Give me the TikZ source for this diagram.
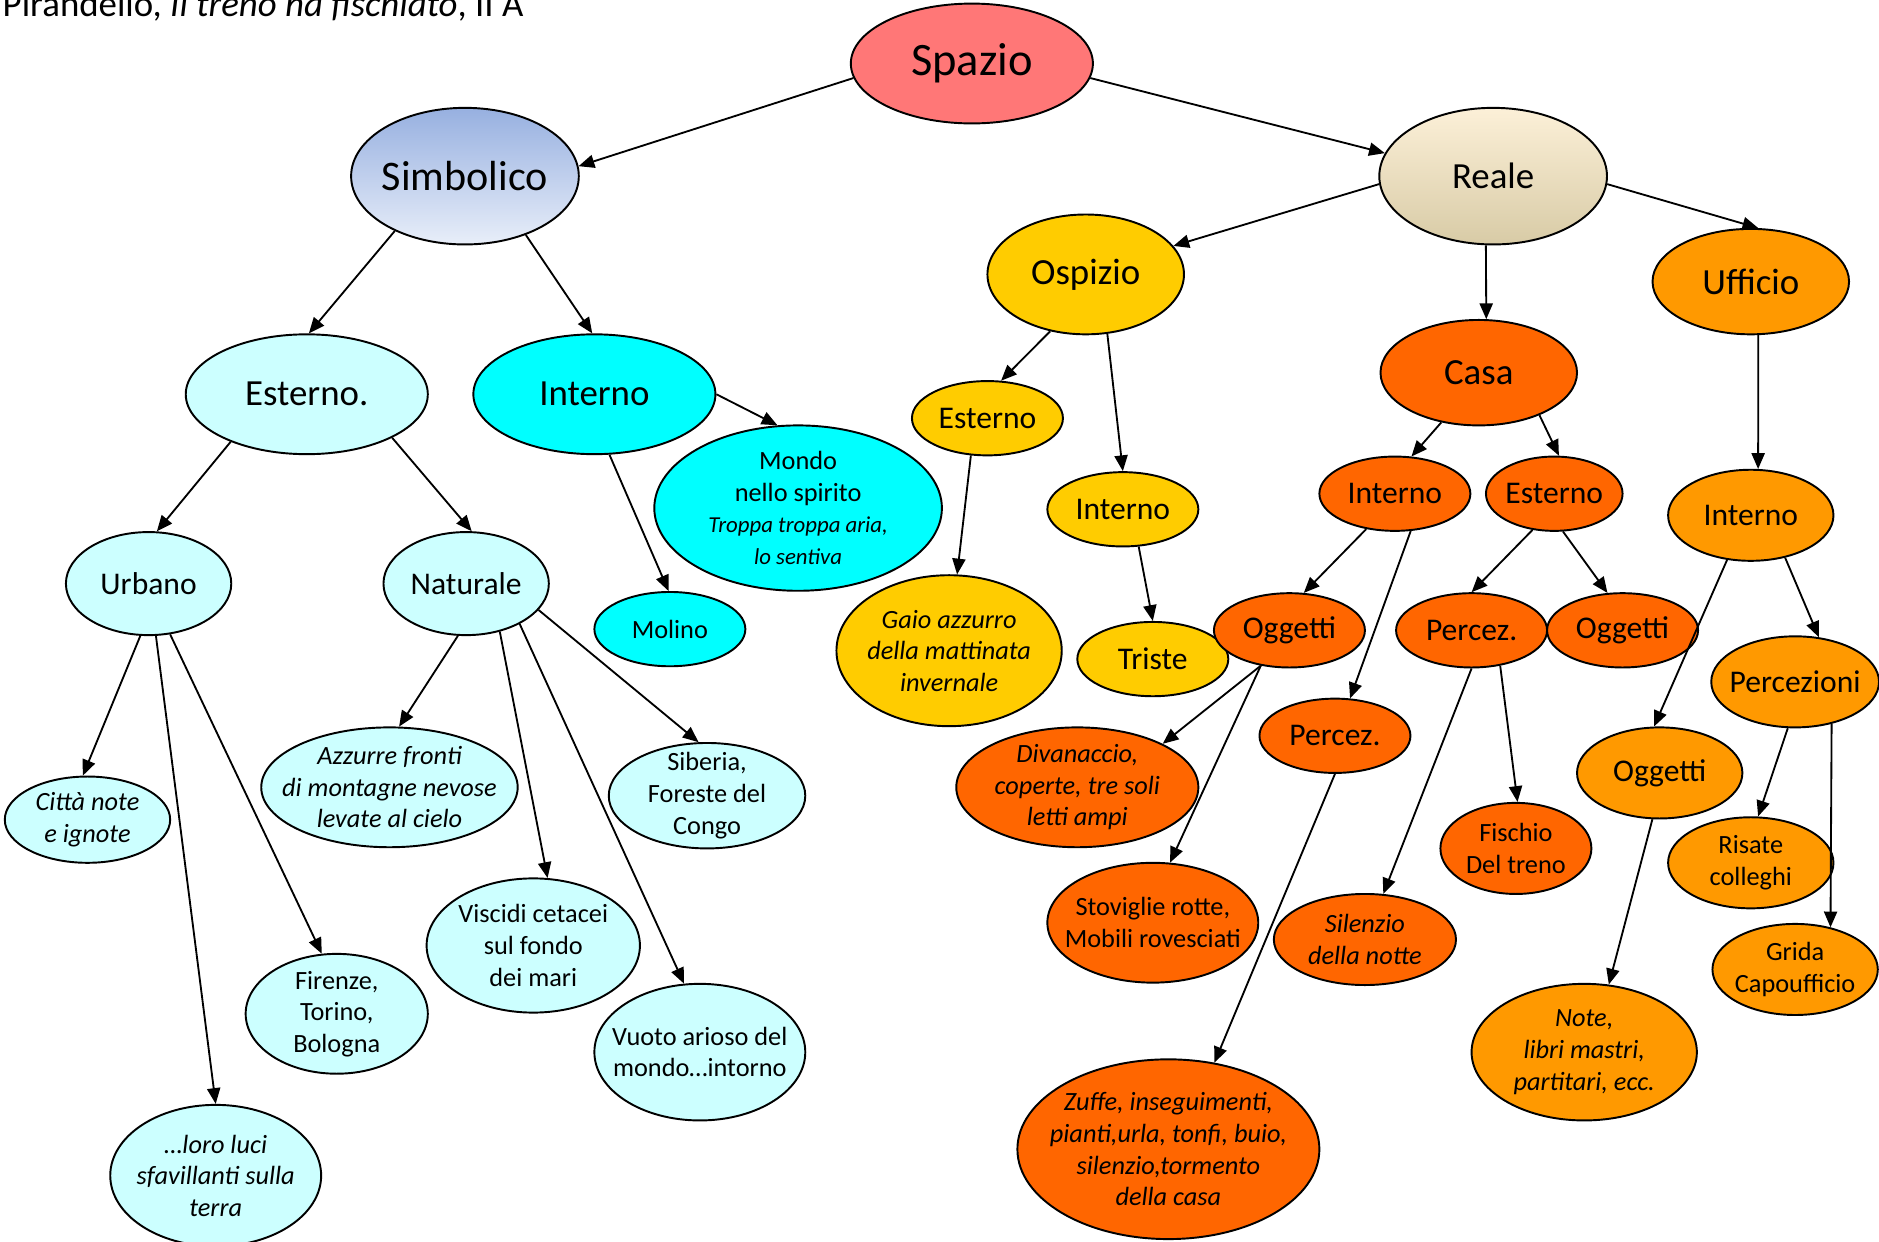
\documentclass[tikz,border=0pt]{standalone}
\usepackage{fontspec}
\setmainfont{Carlito}
\usetikzlibrary{shapes.geometric,arrows.meta}
\definecolor{spz}{HTML}{FF7777}
\definecolor{lcy}{HTML}{CCFFFF}
\definecolor{cy}{HTML}{00FFFF}
\definecolor{osp}{HTML}{FFCC00}
\definecolor{cas}{HTML}{FF6600}
\definecolor{uff}{HTML}{FF9900}
\definecolor{simbT}{HTML}{97B0E0}
\definecolor{simbB}{HTML}{E8EEF9}
\definecolor{realT}{HTML}{FCF0D8}
\definecolor{realB}{HTML}{D8CBA6}
\newcommand\fs[1]{\fontsize{#1}{18}\selectfont}
\newcommand\bub[8]{%
  \node[bubble,#6,minimum width=#4*0.048cm,minimum height=#5*0.048cm] (#1) at (#2,#3) {};
  \node[lbl,font=#7] (#1t) at (#1) {#8};}
\begin{document}
\begin{tikzpicture}[x=0.024cm,y=-0.024cm,
  bubble/.style={ellipse,draw=black,line width=1.1pt,inner sep=0pt},
  lbl/.style={align=center,inner sep=0pt},
  conn/.style={-{Triangle[length=9pt,width=7.5pt]},line width=1.05pt}]
\useasboundingbox (0,0) rectangle (1568,1036);
\node[anchor=base west,inner sep=0pt,font=\fontsize{21}{25}\selectfont] (title) at (2,14) {Pirandello, \textit{Il treno ha fischiato}, II A};

\bub{spazio}{811}{53}{101}{50}{fill=spz}{\fs{26.5}}{Spazio}
\bub{simb}{388}{147}{95}{57}{top color=simbT,bottom color=simbB}{\fs{24}}{Simbolico}
\bub{reale}{1246}{147}{95}{57}{top color=realT,bottom color=realB}{\fs{21}}{Reale}
\bub{est}{256}{329}{101}{50}{fill=lcy}{\fs{21}}{Esterno.}
\bub{int}{496}{329}{101}{50}{fill=cy}{\fs{21}}{Interno}
\bub{mondo}{666}{424}{120}{69}{fill=cy}{\fs{15}}{Mondo\\nello spirito\\{\itshape\fontsize{13}{18}\selectfont Troppa troppa aria,}\\{\itshape\fontsize{13}{18}\selectfont lo sentiva}}
\bub{molino}{559}{525}{63}{31}{fill=cy}{\fs{15}}{Molino}
\bub{urb}{124}{487}{69}{43}{fill=lcy}{\fs{18}}{Urbano}
\bub{nat}{389}{487}{69}{43}{fill=lcy}{\fs{18}}{Naturale}
\bub{citta}{73}{684}{69}{36}{fill=lcy}{\fs{15}\itshape}{Città note\\e ignote}
\bub{azz}{325}{657}{107}{50}{fill=lcy}{\fs{15}\itshape}{Azzurre fronti\\di montagne nevose\\levate al cielo}
\bub{sib}{590}{664}{82}{44}{fill=lcy}{\fs{15}}{Siberia,\\Foreste del\\Congo}
\bub{visc}{445}{789}{89}{56}{fill=lcy}{\fs{15}}{Viscidi cetacei\\sul fondo\\dei mari}
\bub{fir}{281}{846}{76}{50}{fill=lcy}{\fs{15}}{Firenze,\\Torino,\\Bologna}
\bub{vuoto}{584}{878}{88}{57}{fill=lcy}{\fs{15}}{Vuoto arioso del\\mondo…intorno}
\bub{luci}{180}{981}{88}{59}{fill=lcy}{\fs{15}\itshape}{…loro luci\\sfavillanti sulla\\terra}

\bub{osp}{906}{229}{82}{50}{fill=osp}{\fs{21}}{Ospizio}
\bub{ospE}{824}{349}{63}{31}{fill=osp}{\fs{18}}{Esterno}
\bub{ospI}{937}{425}{63}{31}{fill=osp}{\fs{18}}{Interno}
\bub{gaio}{792}{543}{94}{63}{fill=osp}{\fs{15}\itshape}{Gaio azzurro\\della mattinata\\invernale}
\bub{triste}{962}{550}{63}{31}{fill=osp}{\fs{18}}{Triste}

\bub{casa}{1234}{311}{82}{44}{fill=cas}{\fs{21}}{Casa}
\bub{casI}{1164}{412}{63}{31}{fill=cas}{\fs{18}}{Interno}
\bub{casE}{1297}{412}{57}{31}{fill=cas}{\fs{18}}{Esterno}
\bub{oggI}{1076}{526}{63}{31}{fill=cas}{\fs{18}}{Oggetti}
\bub{perE}{1228}{526}{63}{31}{fill=cas}{\fs{18}}{Percez.}
\bub{oggE}{1354}{526}{63}{31}{fill=cas}{\fs{18}}{Oggetti}
\bub{perI}{1114}{614}{63}{31}{fill=cas}{\fs{18}}{Percez.}
\bub{divan}{899}{657}{101}{50}{fill=cas}{\fs{15}\itshape}{Divanaccio,\\coperte, tre soli\\letti ampi}
\bub{stov}{962}{770}{88}{50}{fill=cas}{\fs{15}}{Stoviglie rotte,\\Mobili rovesciati}
\bub{sil}{1139}{784}{76}{38}{fill=cas}{\fs{15}\itshape}{Silenzio\\della notte}
\bub{fisc}{1265}{708}{63}{38}{fill=cas}{\fs{15}}{Fischio\\Del treno}
\bub{zuffe}{975}{959}{126}{75}{fill=cas}{\fs{15}\itshape}{Zuffe, inseguimenti,\\pianti,urla, tonfi, buio,\\silenzio,tormento\\della casa}

\bub{uff}{1461}{235}{82}{44}{fill=uff}{\fs{21}}{Ufficio}
\bub{uffI}{1461}{430}{69}{38}{fill=uff}{\fs{18}}{Interno}
\bub{perc}{1498}{569}{70}{38}{fill=uff}{\fs{18}}{Percezioni}
\bub{oggU}{1385}{645}{69}{38}{fill=uff}{\fs{18}}{Oggetti}
\bub{ris}{1461}{720}{69}{38}{fill=uff}{\fs{15}}{Risate\\colleghi}
\bub{grida}{1498}{809}{69}{38}{fill=uff}{\fs{15}}{Grida\\Capoufficio}
\bub{note}{1322}{878}{94}{57}{fill=uff}{\fs{15}\itshape}{Note,\\libri mastri,\\partitari, ecc.}

\draw[conn] (spazio.187) -- (simb.5);
\draw[conn] (spazio.-7) -- (reale.168);
\draw[conn] (simb.-142) -- (est.88);
\draw[conn] (simb.-44) -- (int.92);
\draw[conn] (int.0) -- (mondo.104);
\draw[conn] (int.-76.5) -- (molino.92);
\draw[conn] (est.-148) -- (urb.81);
\draw[conn] (est.-27) -- (nat.84);
\draw[conn] (urb.-99) -- (citta.96);
\draw[conn] (urb.-82) -- (luci.90);
\draw[conn] (urb.-67) -- (fir.104);
\draw[conn] (nat.-99) -- (azz.81);
\draw[conn] (nat.-55) -- (visc.78);
\draw[conn] (nat.-37) -- (vuoto.103);
\draw[conn] (nat.-20) -- (sib.99);

\draw[conn] (reale.184) -- (osp.18);
\draw[conn] (reale.-96) -- (casa.82);
\draw[conn] (reale.-4) -- (uff.82);
\draw[conn] (osp.-122) -- (ospE.70);
\draw[conn] (osp.-70) -- (ospI.90);
\draw[conn] (ospE.-114) -- (gaio.84.5);
\draw[conn] (ospI.-67) -- (triste.90);
\draw[conn] (casa.-127) -- (casI.66);
\draw[conn] (casa.-35) -- (casE.83);
\draw[conn] (casI.-129) -- (oggI.69);
\draw[conn] (casI.-67) -- (perI.68);
\draw[conn] (casE.-121.5) -- (perE.90);
\draw[conn] (casE.-77) -- (oggE.112);
\draw[conn] (oggI.-129) -- (divan.27);
\draw[conn] (oggI.-129) -- (stov.74);
\draw[conn] (perI.-90) -- (zuffe.62);
\draw[conn] (perE.-90) -- (sil.68.5);
\draw[conn] (perE.-51) -- (fisc.88.5);
\draw[conn] (uff.-82) -- (uffI.81);
\draw[conn] (uffI.-118) -- (oggU.97);
\draw[conn] (uffI.-51) -- (perc.62);
\draw[conn] (oggU.-99) -- (note.70);
\draw[conn] (perc.-99) -- (ris.81);
\draw[conn] (perc.-49) -- (grida.50);
\end{tikzpicture}
\end{document}
